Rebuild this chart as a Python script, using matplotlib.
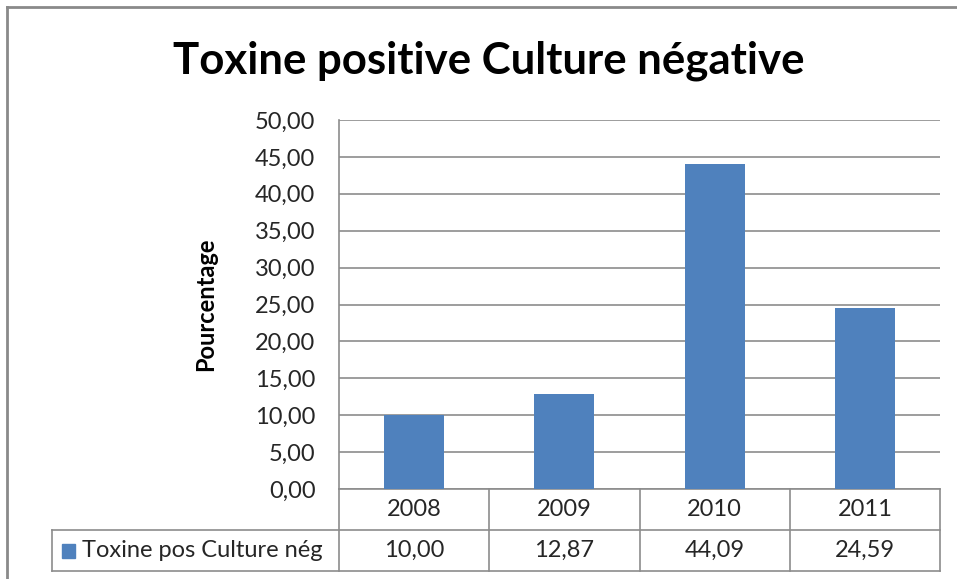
import matplotlib
matplotlib.use("Agg")
import matplotlib.pyplot as plt
from matplotlib.patches import Rectangle
from matplotlib.lines import Line2D
from matplotlib.transforms import blended_transform_factory

# Data
years = ["2008", "2009", "2010", "2011"]
values = [10.00, 12.87, 44.09, 24.59]
series_name = "Toxine pos Culture nég"
title = "Toxine positive Culture négative"
ylabel = "Pourcentage"
yticks = [0, 5, 10, 15, 20, 25, 30, 35, 40, 45, 50]

BAR = "#4F81BD"
LINE = "#8C8C8C"
TXT = "#262626"
FONT = "Lato"
FS = 17

W, H = 957, 579
fig = plt.figure(figsize=(W / 100, H / 100), dpi=100)

# chart frame (top and left edges lie inside the canvas)
fig.lines.append(Line2D([7 / W, 1], [1 - 7 / H, 1 - 7 / H], transform=fig.transFigure,
                        color="#8A8A8A", linewidth=2))
fig.lines.append(Line2D([7 / W, 7 / W], [0, 1 - 7 / H], transform=fig.transFigure,
                        color="#8A8A8A", linewidth=2))

left, right, top, bottom = 339, 940, 120, 489
ax = fig.add_axes([left / W, 1 - bottom / H, (right - left) / W, (bottom - top) / H])

x = list(range(len(years)))
ax.bar(x, values, width=0.4, color=BAR, zorder=3)
ax.set_xlim(-0.5, len(years) - 0.5)
ax.set_ylim(0, 50)
ax.set_yticks(yticks)
ax.set_yticklabels([f"{v:.2f}".replace(".", ",") for v in yticks],
                   fontsize=FS, family=FONT, color=TXT)
ax.tick_params(axis="y", length=0, pad=17)
ax.set_xticks([])
ax.grid(axis="y", color=LINE, linewidth=1.2, zorder=0)
for s in ["top", "right", "bottom"]:
    ax.spines[s].set_visible(False)
ax.spines["left"].set_color(LINE)
ax.spines["left"].set_linewidth(1.2)

ax.set_ylabel(ylabel, fontsize=17, fontweight="bold", family=FONT, labelpad=27)

fig.text(489 / W, 1 - 61 / H, title, ha="center", va="center",
         fontsize=31.5, fontweight="bold", family=FONT)

# data table under the axis
tr = blended_transform_factory(ax.transData, ax.transAxes)
ph = bottom - top
cw = (right - left) / len(years)
y_row1 = (bottom - 530) / ph
y_row2 = (bottom - 571) / ph
x_leg = -0.5 + (52 - left) / cw
n = len(years)
kw = dict(transform=tr, color=LINE, linewidth=1.2, clip_on=False)
ax.plot([-0.5, n - 0.5], [0, 0], **kw)
ax.plot([x_leg, n - 0.5], [y_row1, y_row1], **kw)
ax.plot([x_leg, n - 0.5], [y_row2, y_row2], **kw)
ax.plot([x_leg, x_leg], [y_row1, y_row2], **kw)
for i in range(n + 1):
    ax.plot([i - 0.5, i - 0.5], [0, y_row2], **kw)

for i, (yr, v) in enumerate(zip(years, values)):
    ax.text(i, y_row1 / 2, yr, transform=tr, ha="center", va="center",
            fontsize=FS, family=FONT, color=TXT, clip_on=False)
    ax.text(i, (y_row1 + y_row2) / 2, f"{v:.2f}".replace(".", ","), transform=tr,
            ha="center", va="center", fontsize=FS, family=FONT, color=TXT, clip_on=False)

# legend key inside the table
ax.add_patch(Rectangle((x_leg + 10 / cw, (y_row1 + y_row2) / 2 - 7 / ph),
                       13 / cw, 14 / ph, transform=tr, color=BAR, clip_on=False))
ax.text(x_leg + 30 / cw, (y_row1 + y_row2) / 2, series_name,
        transform=tr, ha="left", va="center", fontsize=FS, family=FONT, color=TXT,
        clip_on=False)

fig.savefig("out.png", dpi=100)
